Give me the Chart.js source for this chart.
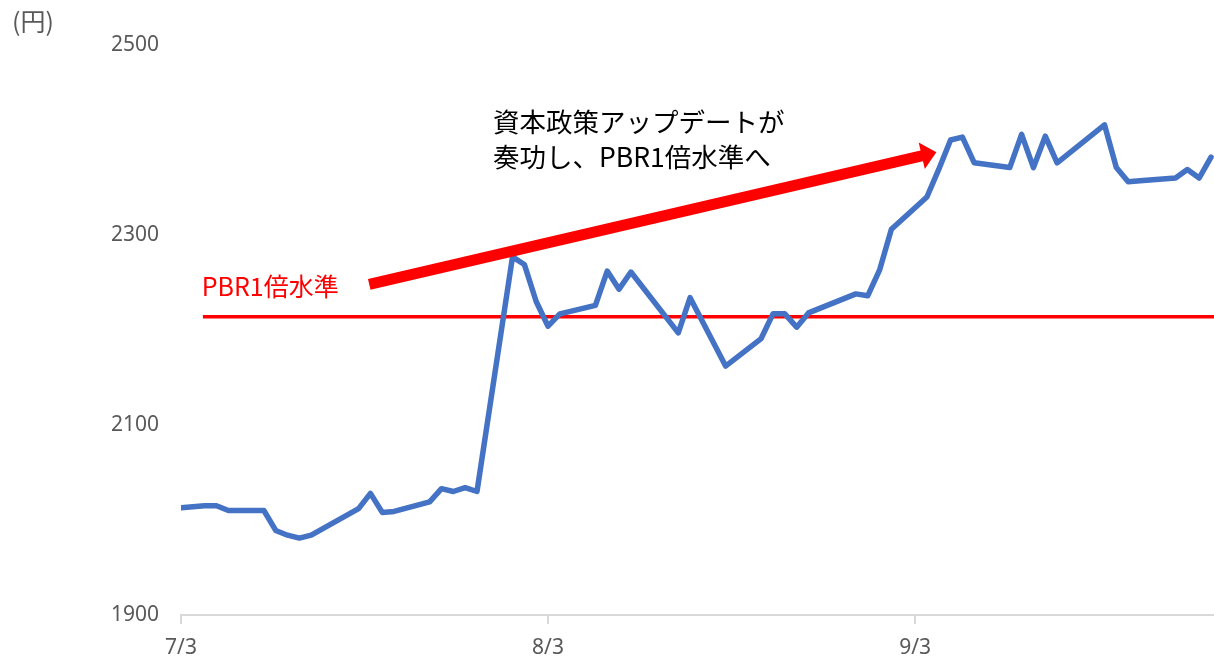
<!DOCTYPE html>
<html>
<head>
<meta charset="utf-8">
<script src="https://cdn.jsdelivr.net/npm/chart.js@4"></script>
<style>
    html, body {margin: 0; padding: 0; background: #fff;}
    #wrap {width: 1214px; height: 660px; position: relative;}
</style>
</head>
<body>
<div id="wrap"><canvas id="priceChart"></canvas></div>
<script>
// trading days (2023) and closing prices
const dates = ['7/3','7/4','7/5','7/6','7/7','7/10','7/11','7/12','7/13','7/14','7/18','7/19','7/20','7/21','7/24','7/25','7/26','7/27','7/28','7/31',
    '8/1','8/2','8/3','8/4','8/7','8/8','8/9','8/10','8/14','8/15','8/16','8/17','8/18','8/21','8/22','8/23','8/24','8/25','8/28','8/29','8/30','8/31',
    '9/1','9/4','9/5','9/6','9/7','9/8','9/11','9/12','9/13','9/14','9/15','9/19','9/20','9/21','9/22','9/25','9/26','9/27','9/28']
const prices = [2013,2014,2015,2015,2010,2010,1989,1984,1981,1984,2012,2028,2008,2009,2019,2033,2030,2034,2030,2277,
    2269,2230,2204,2217,2226,2262,2243,2261,2197,2234,2210,2186,2162,2191,2217,2217,2203,2218,2233,2238,2236,2263,
    2306,2340,2369,2400,2403,2376,2371,2406,2371,2404,2376,2416,2371,2356,2357,2360,2369,2360,2382]

const xTickDates = ['7/3','8/3','9/3']
const yTicks = [1900,2100,2300,2500]

// PBR 1x price level
const pbrLevel = 2214
const pbrFromDay = 1.85

// arrow + notes, as [days after 7/3, price]
const arrowFrom = [15.9, 2248]
const arrowTo = [63.8, 2387]
const noteLines = ['資本政策アップデートが', '奏功し、PBR1倍水準へ']
const noteAt = [26.35, 2419]
const pbrLabel = 'PBR1倍水準'
const pbrLabelAt = [1.75, 2246]

const baseDay = new Date(2023, 6, 3)
const dayOf = (md) => {
    let [m, d] = md.split('/').map(Number)
    return Math.round((new Date(2023, m - 1, d) - baseDay) / 86400000)
}

const priceData = dates.map((d, i) => ({x: dayOf(d), y: prices[i]}))

const annotate = {
    id: 'annotate',
    afterDatasetsDraw(chart) {
        let ctx = chart.ctx
        let xs = chart.scales.x, ys = chart.scales.y
        let px = (p) => [xs.getPixelForValue(p[0]), ys.getPixelForValue(p[1])]

        // arrow
        let [x0, y0] = px(arrowFrom)
        let [x1, y1] = px(arrowTo)
        let ang = Math.atan2(y1 - y0, x1 - x0)
        let headLen = 15, headW = 27, shaft = 11
        let bx = x1 - headLen * Math.cos(ang), by = y1 - headLen * Math.sin(ang)
        ctx.save()
        ctx.strokeStyle = '#ff0000'
        ctx.fillStyle = '#ff0000'
        ctx.lineWidth = shaft
        ctx.lineCap = 'butt'
        ctx.beginPath()
        ctx.moveTo(x0, y0)
        ctx.lineTo(bx + Math.cos(ang), by + Math.sin(ang))
        ctx.stroke()
        ctx.beginPath()
        ctx.moveTo(x1, y1)
        ctx.lineTo(bx + headW / 2 * Math.sin(ang), by - headW / 2 * Math.cos(ang))
        ctx.lineTo(bx - headW / 2 * Math.sin(ang), by + headW / 2 * Math.cos(ang))
        ctx.closePath()
        ctx.fill()

        // text notes
        ctx.textBaseline = 'middle'
        ctx.textAlign = 'left'
        ctx.font = '26.5px "Noto Sans CJK JP"'
        ctx.fillStyle = '#000'
        let [tx, ty] = px(noteAt)
        noteLines.forEach((t, i) => ctx.fillText(t, tx, ty + i * 35))

        ctx.font = '25px "Noto Sans CJK JP"'
        ctx.fillStyle = '#ff0000'
        let [lx, ly] = px(pbrLabelAt)
        ctx.fillText(pbrLabel, lx, ly)

        // unit label
        ctx.font = '25px "Noto Sans CJK JP"'
        ctx.fillStyle = '#595959'
        ctx.fillText('(円)', 12, 21)
        ctx.restore()
    }
}

new Chart(document.getElementById('priceChart'), {
    type: 'line',
    data: {
        datasets: [{
            data: priceData,
            borderColor: '#4472C4',
            borderWidth: 5.5,
            borderJoinStyle: 'round',
            borderCapStyle: 'round',
            pointRadius: 0,
            tension: 0,
            fill: false
        }, {
            data: [{x: pbrFromDay, y: pbrLevel}, {x: 87.3, y: pbrLevel}],
            borderColor: '#ff0000',
            borderWidth: 3.5,
            pointRadius: 0,
            fill: false
        }]
    },
    options: {
        responsive: true,
        maintainAspectRatio: false,
        animation: false,
        events: [],
        layout: {padding: {top: 45, right: 0, bottom: 0, left: 0}},
        plugins: {legend: {display: false}, tooltip: {enabled: false}},
        scales: {
            x: {
                type: 'linear',
                min: 0,
                max: 87.25,
                afterFit: (s) => { s.height = 45 },
                afterBuildTicks: (s) => { s.ticks = xTickDates.map(d => ({value: dayOf(d)})) },
                ticks: {
                    callback: (v) => xTickDates.find(d => dayOf(d) === v) || '',
                    color: '#595959',
                    font: {family: '"Noto Sans"', size: 21},
                    padding: 11,
                    maxRotation: 0,
                    autoSkip: false
                },
                grid: {drawOnChartArea: false, drawTicks: true, tickLength: 9, color: '#d9d9d9', lineWidth: 2},
                border: {display: true, color: '#d9d9d9', width: 2}
            },
            y: {
                min: 1900,
                max: 2500,
                afterFit: (s) => { s.width = 181 },
                afterBuildTicks: (s) => { s.ticks = yTicks.map(v => ({value: v})) },
                ticks: {
                    callback: (v) => String(v),
                    color: '#595959',
                    font: {family: '"Noto Sans"', size: 21},
                    padding: 22
                },
                grid: {display: false, drawTicks: false},
                border: {display: false}
            }
        }
    },
    plugins: [annotate]
})
</script>
</body>
</html>
